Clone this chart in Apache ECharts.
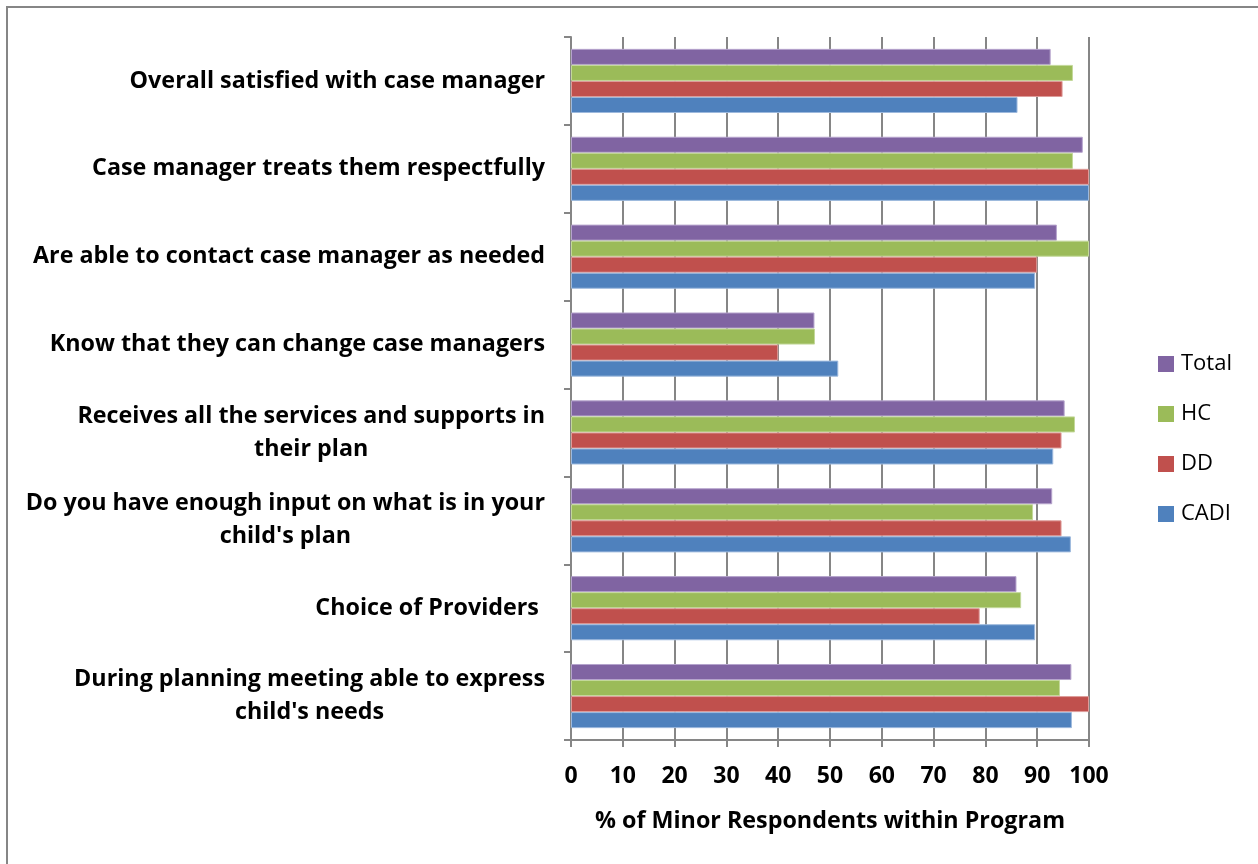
<!DOCTYPE html>
<html>
<head>
<meta charset="utf-8">
<script src="https://cdn.jsdelivr.net/npm/echarts@6/dist/echarts.min.js"></script>
<style>
  html, body { margin: 0; padding: 0; background: #fff; }
  #chart { width: 1258px; height: 864px; }
</style>
</head>
<body>
<div id="chart"></div>
<script>
// Survey items, listed bottom to top as they appear on the category axis
const categories = [
  "During planning meeting able to express\nchild's needs",
  "Choice of Providers ",
  "Do you have enough input on what is in your\nchild's plan",
  "Receives all the services and supports in\ntheir plan",
  "Know that they can change case managers",
  "Are able to contact case manager as needed",
  "Case manager treats them respectfully",
  "Overall satisfied with case manager"
];

// Percent of minor respondents, per program (same order as categories)
const totalValues = [96.6, 86.0, 92.9, 95.3, 47.0, 93.8, 98.8, 92.6];
const hcValues    = [94.4, 86.9, 89.2, 97.3, 47.1, 100, 96.9, 96.9];
const ddValues    = [100, 78.9, 94.7, 94.7, 40.0, 90.0, 100, 94.9];
const cadiValues  = [96.7, 89.6, 96.5, 93.1, 51.6, 89.6, 100, 86.2];

const seriesNames = ['Total', 'HC', 'DD', 'CADI'];
const seriesColors = ['#8064A2', '#9BBB59', '#C0504D', '#4F81BD'];
const borderColors = ['#B5A3CC', '#C3D89A', '#DE9C9A', '#9DB9DD'];

const xTicks = [0, 10, 20, 30, 40, 50, 60, 70, 80, 90, 100];

const FONT = '"Open Sans", sans-serif';

// Size the bold category font so the longest single-line item spans about 512px
function fitFontSize(text, targetWidth, weight) {
  const ctx = document.createElement('canvas').getContext('2d');
  ctx.font = weight + ' 20px ' + FONT;
  const w = ctx.measureText(text).width;
  return Math.round(20 * targetWidth / w * 10) / 10;
}
const catFontSize = fitFontSize(categories[5], 512, 'bold');

const chart = echarts.init(document.getElementById('chart'));

const valueSets = [totalValues, hcValues, ddValues, cadiValues];

const option = {
  backgroundColor: '#ffffff',
  animation: false,
  textStyle: { fontFamily: FONT },
  graphic: [
    {
      type: 'polyline',
      shape: { points: [[7, 870], [7, 7], [1270, 7]] },
      style: { stroke: '#868686', lineWidth: 2, fill: null },
      silent: true
    }
  ],
  grid: {
    left: 571,
    right: 169,
    top: 37,
    bottom: 124,
    containLabel: false
  },
  legend: {
    orient: 'vertical',
    left: 1153,
    top: 348,
    itemWidth: 16,
    itemHeight: 16,
    itemGap: 28,
    icon: 'rect',
    data: seriesNames.slice(),
    itemStyle: { borderWidth: 0 },
    textStyle: { fontFamily: FONT, fontSize: 22, color: '#000', padding: [0, 0, 0, 2] }
  },
  xAxis: {
    type: 'value',
    min: xTicks[0],
    max: xTicks[xTicks.length - 1],
    interval: 10,
    name: '% of Minor Respondents within Program',
    nameLocation: 'middle',
    nameGap: 70,
    nameTextStyle: { fontFamily: FONT, fontWeight: 'bold', fontSize: catFontSize, color: '#000' },
    axisLine: { show: true, lineStyle: { color: '#868686', width: 2 } },
    axisTick: { show: true, length: 7, lineStyle: { color: '#868686', width: 2 } },
    axisLabel: {
      fontFamily: FONT, fontWeight: 'bold', fontSize: 23, color: '#000', margin: 25,
      formatter: v => String(v)
    },
    splitLine: { show: true, lineStyle: { color: '#868686', width: 2 } }
  },
  yAxis: {
    type: 'category',
    data: categories,
    axisLine: { show: true, lineStyle: { color: '#868686', width: 2 } },
    axisTick: { show: true, length: 7, alignWithLabel: false, lineStyle: { color: '#868686', width: 2 } },
    axisLabel: {
      margin: 26,
      align: 'right',
      formatter: v => v.split('\n').map(s => '{c|' + s + '}').join('\n'),
      rich: {
        c: { align: 'center', fontFamily: FONT, fontWeight: 'bold', fontSize: catFontSize, color: '#000', lineHeight: 33 }
      }
    },
    splitLine: { show: false }
  },
  series: seriesNames.map((name, i) => ({
    name: name,
    type: 'bar',
    data: valueSets[i],
    barGap: '0%',
    barCategoryGap: '27%',
    itemStyle: { color: seriesColors[i], borderColor: borderColors[i], borderWidth: 1 }
  }))
};

chart.setOption(option);
</script>
</body>
</html>
